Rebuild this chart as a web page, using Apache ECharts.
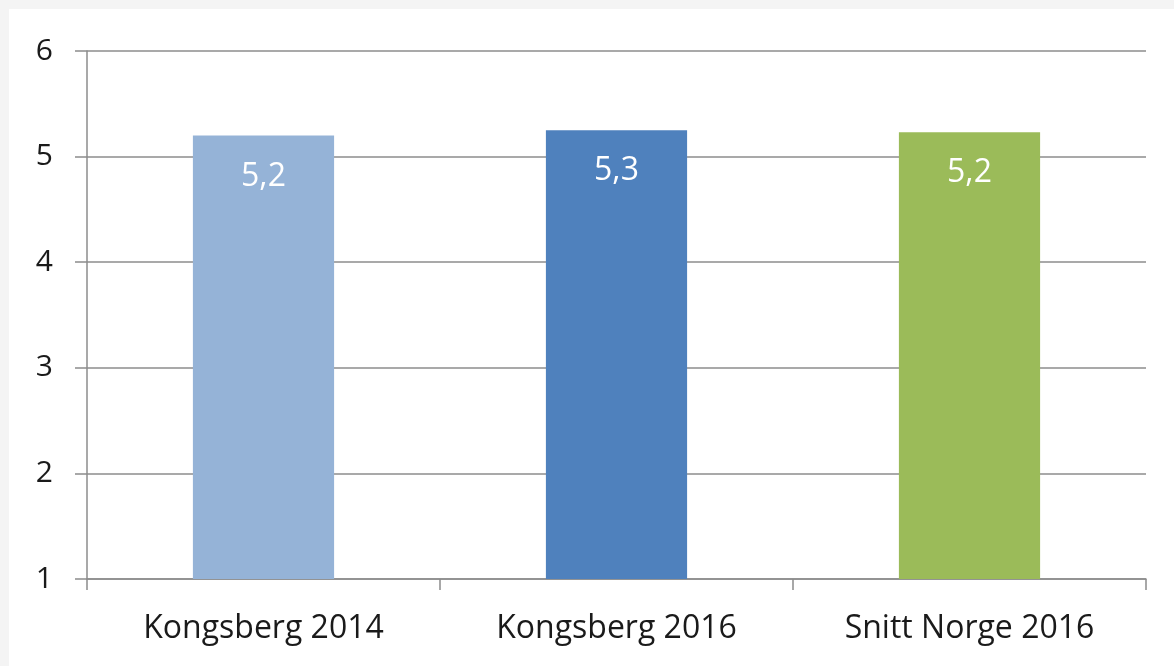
<!DOCTYPE html>
<html>
<head>
<meta charset="utf-8">
<script src="https://cdn.jsdelivr.net/npm/echarts@6/dist/echarts.min.js"></script>
<style>
html,body{margin:0;padding:0;background:#f4f4f4;width:1174px;height:666px;overflow:hidden;}
#c{position:absolute;left:9px;top:9px;width:1165px;height:657px;background:#fff;}
</style>
</head>
<body>
<div id="c"></div>
<script>
const categories = ['Kongsberg 2014', 'Kongsberg 2016', 'Snitt Norge 2016'];
const values = [5.2, 5.25, 5.23];
const barColors = ['#95b3d7', '#4f81bd', '#9bbb59'];
const yTicks = [1, 2, 3, 4, 5, 6];

const chart = echarts.init(document.getElementById('c'), null, {renderer: 'canvas'});
const font = '"Open Sans", "Noto Sans", sans-serif';
chart.setOption({
  animation: false,
  backgroundColor: '#ffffff',
  grid: {left: 78, top: 42, right: 28, bottom: 87, containLabel: false},
  xAxis: {
    type: 'category',
    data: categories,
    axisLine: {lineStyle: {color: '#8c8c8c', width: 1.5}},
    axisTick: {show: true, length: 11, lineStyle: {color: '#8c8c8c', width: 1.5}},
    axisLabel: {color: '#1a1a1a', fontSize: 32, fontFamily: font, margin: 34}
  },
  yAxis: {
    type: 'value',
    min: yTicks[0],
    max: yTicks[yTicks.length - 1],
    interval: 1,
    axisLine: {show: true, lineStyle: {color: '#8c8c8c', width: 1.5}},
    axisTick: {show: true, length: 12, lineStyle: {color: '#8c8c8c', width: 1.5}},
    splitLine: {lineStyle: {color: '#8c8c8c', width: 1.5}},
    axisLabel: {color: '#1a1a1a', fontSize: 30, fontFamily: font, margin: 34}
  },
  series: [{
    type: 'bar',
    barWidth: '40%',
    data: values.map((v, i) => ({value: v, itemStyle: {color: barColors[i]}})),
    label: {
      show: true,
      position: 'insideTop',
      distance: 25,
      color: '#ffffff',
      fontSize: 32,
      fontFamily: font,
      formatter: p => p.value.toFixed(1).replace('.', ',')
    }
  }]
});
</script>
</body>
</html>
